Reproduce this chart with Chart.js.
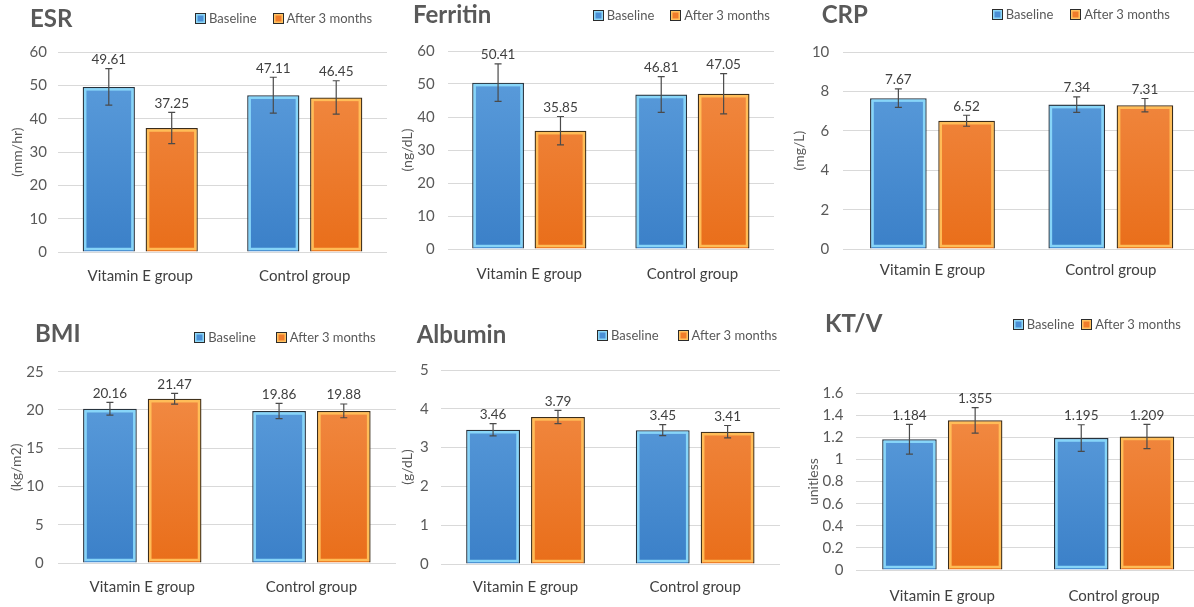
<!DOCTYPE html>
<html>
<head>
<meta charset="utf-8">
<script src="https://cdn.jsdelivr.net/npm/chart.js"></script>
<style>
  html, body { margin: 0; padding: 0; background: #fff; width: 1194px; height: 607px; overflow: hidden; position: relative; font-family: Lato, sans-serif; }
  canvas { position: absolute; }
  .title { position: absolute; font-weight: bold; font-size: 24px; line-height: 1; color: #595959; white-space: nowrap; }
  .legend { position: absolute; display: flex; align-items: center; font-size: 13px; line-height: 1; color: #595959; white-space: nowrap; }
  .legend span { display: flex; align-items: center; }
  .legend i { display: inline-block; width: 9px; height: 9px; border: 1px solid #2b2b2b; margin-right: 3px; }
  .legend i.b { background: #4a8fd6; box-shadow: inset 0 0 0 1.5px #8ed8f8; }
  .legend i.o { background: #f07c2a; box-shadow: inset 0 0 0 1.5px #ffc262; }
</style>
</head>
<body>
<script>
// categories and series
const groups = ['Vitamin E group', 'Control group'];
const seriesNames = ['Baseline', 'After 3 months'];

// ESR (mm/hr)
const esrBaseline = [49.61, 47.11];
const esrAfter = [37.25, 46.45];
const esrBaselineSd = [5.5, 5.4];
const esrAfterSd = [4.7, 5.0];

// Ferritin (ng/dL)
const ferritinBaseline = [50.41, 46.81];
const ferritinAfter = [35.85, 47.05];
const ferritinBaselineSd = [5.7, 5.4];
const ferritinAfterSd = [4.3, 6.1];

// CRP (mg/L)
const crpBaseline = [7.67, 7.34];
const crpAfter = [6.52, 7.31];
const crpBaselineSd = [0.47, 0.39];
const crpAfterSd = [0.28, 0.34];

// BMI (kg/m2)
const bmiBaseline = [20.16, 19.86];
const bmiAfter = [21.47, 19.88];
const bmiBaselineSd = [0.83, 1.0];
const bmiAfterSd = [0.7, 0.9];

// Albumin (g/dL)
const albuminBaseline = [3.46, 3.45];
const albuminAfter = [3.79, 3.41];
const albuminBaselineSd = [0.16, 0.14];
const albuminAfterSd = [0.17, 0.16];

// KT/V (unitless)
const ktvBaseline = [1.184, 1.195];
const ktvAfter = [1.355, 1.209];
const ktvBaselineSd = [0.135, 0.12];
const ktvAfterSd = [0.115, 0.11];

// one entry per small chart
const panels = [
  { title: 'ESR', unit: '(mm/hr)', base: esrBaseline, after: esrAfter, baseSd: esrBaselineSd, afterSd: esrAfterSd, max: 60, step: 10 },
  { title: 'Ferritin', unit: '(ng/dL)', base: ferritinBaseline, after: ferritinAfter, baseSd: ferritinBaselineSd, afterSd: ferritinAfterSd, max: 60, step: 10 },
  { title: 'CRP', unit: '(mg/L)', base: crpBaseline, after: crpAfter, baseSd: crpBaselineSd, afterSd: crpAfterSd, max: 10, step: 2 },
  { title: 'BMI', unit: '(kg/m2)', base: bmiBaseline, after: bmiAfter, baseSd: bmiBaselineSd, afterSd: bmiAfterSd, max: 25, step: 5 },
  { title: 'Albumin', unit: '(g/dL)', base: albuminBaseline, after: albuminAfter, baseSd: albuminBaselineSd, afterSd: albuminAfterSd, max: 5, step: 1 },
  { title: 'KT/V', unit: 'unitless', base: ktvBaseline, after: ktvAfter, baseSd: ktvBaselineSd, afterSd: ktvAfterSd, max: 1.6, step: 0.2 }
];

// where each chart sits on the page (plot area edges, axis title x, title & legend spots)
const layouts = [
  { axisX: 17,    left: 58,    right: 387,  top: 52.3,  bottom: 251.7, yPad: 11, xPad: 15.3, titleX: 30,    titleY: 18.3,  legX: 195,    legY: 18.3,  legGap: 16 },
  { axisX: 407.5, left: 447.7, right: 774,  top: 51,    bottom: 249.3, yPad: 13, xPad: 15.7, titleX: 413,   titleY: 15,    legX: 592.7,  legY: 16,    legGap: 16 },
  { axisX: 799.5, left: 843.3, right: 1200, top: 52.3,  bottom: 249.3, yPad: 14, xPad: 11.7, titleX: 821.7, titleY: 15,    legX: 991.7,  legY: 15,    legGap: 17 },
  { axisX: 16.7,  left: 57.7,  right: 395.7,top: 371.7, bottom: 562.7, yPad: 14, xPad: 15.6, titleX: 35,    titleY: 333.3, legX: 194.3,  legY: 337.7, legGap: 20 },
  { axisX: 407.3, left: 440.7, right: 780,  top: 370,   bottom: 564.3, yPad: 12, xPad: 13.7, titleX: 416.7, titleY: 335,   legX: 597,    legY: 335.7, legGap: 19 },
  { axisX: 813.3, left: 856.4, right: 1200, top: 393.3, bottom: 570,   yPad: 13, xPad: 17,   titleX: 825,   titleY: 323.3, legX: 1012.7, legY: 325,   legGap: 7 }
];

// vertical gradient across the plot area
function barGradient(topColor, bottomColor) {
  return function(context) {
    const chart = context.chart;
    const area = chart.chartArea;
    if (!area) return bottomColor;
    const g = chart.ctx.createLinearGradient(0, area.top, 0, area.bottom);
    g.addColorStop(0, topColor);
    g.addColorStop(1, bottomColor);
    return g;
  };
}

// inner bevel, error bars and value labels
const decorPlugin = {
  id: 'decor',
  afterDatasetsDraw(chart) {
    const ctx = chart.ctx;
    const yScale = chart.scales.y;
    chart.data.datasets.forEach(function(ds, di) {
      const meta = chart.getDatasetMeta(di);
      meta.data.forEach(function(bar, i) {
        const p = bar.getProps(['x', 'y', 'base', 'width'], true);
        const left = p.x - p.width / 2;
        ctx.save();
        ctx.strokeStyle = ds.highlight;
        ctx.lineWidth = 2.5;
        ctx.strokeRect(left + 2.5, p.y + 2.5, p.width - 5, p.base - p.y - 5);
        ctx.restore();

        const v = ds.data[i];
        const e = ds.sd[i];
        const yHi = yScale.getPixelForValue(v + e);
        const yLo = yScale.getPixelForValue(v - e);
        ctx.save();
        ctx.strokeStyle = '#4a4a4a';
        ctx.lineWidth = 1.2;
        ctx.beginPath();
        ctx.moveTo(p.x, yHi); ctx.lineTo(p.x, yLo);
        ctx.moveTo(p.x - 3.5, yHi); ctx.lineTo(p.x + 3.5, yHi);
        ctx.moveTo(p.x - 3.5, yLo); ctx.lineTo(p.x + 3.5, yLo);
        ctx.stroke();
        ctx.fillStyle = '#404040';
        ctx.font = '13.5px Lato';
        ctx.textAlign = 'center';
        ctx.textBaseline = 'middle';
        ctx.fillText(String(v), p.x, yHi - 9);
        ctx.restore();
      });
    });
  }
};

function addText(p, L) {
  const t = document.createElement('div');
  t.className = 'title';
  t.textContent = p.title;
  t.style.left = L.titleX + 'px';
  t.style.top = (L.titleY - 12.6) + 'px';
  document.body.appendChild(t);

  const leg = document.createElement('div');
  leg.className = 'legend';
  leg.style.left = L.legX + 'px';
  leg.style.top = (L.legY - 6.8) + 'px';
  leg.innerHTML = '<span><i class="b"></i>' + seriesNames[0] + '</span>' +
    '<span style="margin-left:' + L.legGap + 'px"><i class="o"></i>' + seriesNames[1] + '</span>';
  document.body.appendChild(leg);
}

function makeChart(p, L) {
  const canvasLeft = Math.round(L.axisX - 12.4);
  const canvasTop = Math.round(L.top - 30);
  const xHeight = 40;
  const w = Math.round(L.right - canvasLeft);
  const h = Math.round(L.bottom + xHeight - canvasTop);

  const canvas = document.createElement('canvas');
  canvas.width = w;
  canvas.height = h;
  canvas.style.left = canvasLeft + 'px';
  canvas.style.top = canvasTop + 'px';
  canvas.style.width = w + 'px';
  canvas.style.height = h + 'px';
  document.body.appendChild(canvas);

  new Chart(canvas, {
    type: 'bar',
    data: {
      labels: groups,
      datasets: [
        {
          label: seriesNames[0],
          data: p.base,
          sd: p.baseSd,
          backgroundColor: barGradient('#5e9fdd', '#3b80c8'),
          borderColor: '#27313b',
          borderWidth: 1.5,
          highlight: 'rgba(138, 216, 250, 0.95)',
          categoryPercentage: 0.765,
          barPercentage: 0.83
        },
        {
          label: seriesNames[1],
          data: p.after,
          sd: p.afterSd,
          backgroundColor: barGradient('#f28d48', '#e96e1a'),
          borderColor: '#3a2c1a',
          borderWidth: 1.5,
          highlight: 'rgba(255, 192, 90, 0.95)',
          categoryPercentage: 0.765,
          barPercentage: 0.83
        }
      ]
    },
    options: {
      responsive: false,
      animation: false,
      devicePixelRatio: 1,
      layout: { padding: { left: 0, right: 0, top: L.top - canvasTop, bottom: 0 } },
      plugins: { legend: { display: false }, tooltip: { enabled: false } },
      scales: {
        x: {
          grid: { display: false, drawTicks: false },
          border: { display: false },
          ticks: { padding: L.xPad, color: '#404040', font: { family: 'Lato', size: 15 } },
          afterFit: function(scale) { scale.height = xHeight; }
        },
        y: {
          min: 0,
          max: p.max,
          grid: { color: '#d9d9d9', lineWidth: 1, drawTicks: false },
          border: { display: false },
          ticks: {
            stepSize: p.step,
            padding: L.yPad,
            color: '#595959',
            font: { family: 'Lato', size: 15 },
            callback: function(v) { return String(+v.toFixed(1)); }
          },
          title: {
            display: true,
            text: p.unit,
            color: '#595959',
            font: { family: 'Lato', size: 14, lineHeight: 1.2 },
            padding: { top: 4, bottom: 4 }
          },
          afterFit: function(scale) { scale.width = L.left - canvasLeft; }
        }
      }
    },
    plugins: [decorPlugin]
  });
}

panels.forEach(function(p, i) {
  makeChart(p, layouts[i]);
  addText(p, layouts[i]);
});
</script>
</body>
</html>
